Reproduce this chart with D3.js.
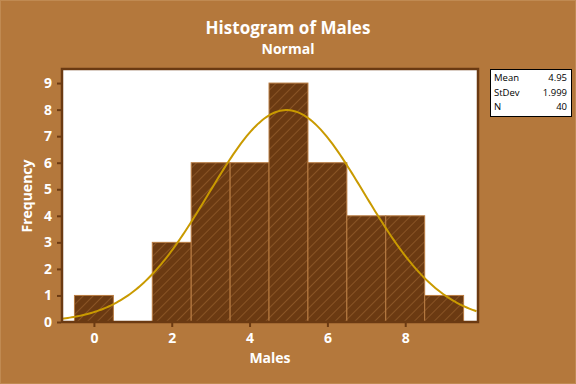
<!DOCTYPE html>
<html>
<head>
<meta charset="utf-8">
<script src="https://cdn.jsdelivr.net/npm/d3@7"></script>
<style>
  body { margin: 0; background: #b4783c; }
  svg { display: block; }
  text { font-family: "Open Sans", "DejaVu Sans", sans-serif; }
</style>
</head>
<body>
<svg id="chart" width="576" height="384"></svg>
<script>
// histogram bins (centre of each bin) and counts
var binCentres = [0, 1, 2, 3, 4, 5, 6, 7, 8, 9];
var counts = [1, 0, 3, 6, 6, 9, 6, 4, 4, 1];
var xTicks = [0, 2, 4, 6, 8];
var yTicks = [0, 1, 2, 3, 4, 5, 6, 7, 8, 9];
var statNames = ["Mean", "StDev", "N"];
var statValues = ["4.95", "1.999", "40"];
var mean = 4.95, sd = 1.999, n = 40, binWidth = 1;

var bg = "#b4783c";
var dark = "#6b3a12";
var svg = d3.select("#chart");

svg.append("rect")
  .attr("x", 0.5).attr("y", 0.5)
  .attr("width", 575).attr("height", 383)
  .attr("fill", bg).attr("stroke", "#c08a52");

var margin = {top: 69, right: 98, bottom: 62, left: 62};
var width = 576 - margin.left - margin.right;
var height = 384 - margin.top - margin.bottom;

var x = d3.scaleLinear().domain([-0.82, 9.87]).range([0, width]);
var y = d3.scaleLinear().domain([0, 9.53]).range([height, 0]);

// hatch pattern for the bars
var defs = svg.append("defs");
var pat = defs.append("pattern")
  .attr("id", "hatch")
  .attr("patternUnits", "userSpaceOnUse")
  .attr("width", 7).attr("height", 7)
  .attr("patternTransform", "rotate(45)");
pat.append("rect").attr("width", 7).attr("height", 7).attr("fill", dark);
pat.append("line")
  .attr("x1", 0).attr("y1", 0).attr("x2", 0).attr("y2", 7)
  .attr("stroke", "#a26a34").attr("stroke-width", 1.1);

var g = svg.append("g")
  .attr("transform", "translate(" + margin.left + "," + margin.top + ")");

g.append("rect")
  .attr("width", width).attr("height", height)
  .attr("fill", "#ffffff");

var bins = binCentres.map(function(c, i) { return {c: c, n: counts[i]}; })
  .filter(function(d) { return d.n > 0; });

g.selectAll(".bar")
  .data(bins)
  .enter().append("rect")
  .attr("class", "bar")
  .attr("x", function(d) { return x(d.c - binWidth / 2); })
  .attr("y", function(d) { return y(d.n); })
  .attr("width", function(d) { return x(d.c + binWidth / 2) - x(d.c - binWidth / 2); })
  .attr("height", function(d) { return y(0) - y(d.n); })
  .attr("fill", "url(#hatch)")
  .attr("stroke", "#b97c42")
  .attr("stroke-width", 1);

// fitted normal curve from the summary stats
var xs = d3.range(x.domain()[0], x.domain()[1] + 0.001, 0.05);
var curve = xs.map(function(v) {
  var z = (v - mean) / sd;
  return [v, n * binWidth * Math.exp(-0.5 * z * z) / (sd * Math.sqrt(2 * Math.PI))];
});

g.append("path")
  .datum(curve)
  .attr("fill", "none")
  .attr("stroke", "#c99a00")
  .attr("stroke-width", 2)
  .attr("d", d3.line()
    .x(function(d) { return x(d[0]); })
    .y(function(d) { return y(d[1]); }));

// frame
g.append("rect")
  .attr("x", 0).attr("y", 0)
  .attr("width", width).attr("height", height)
  .attr("fill", "none")
  .attr("stroke", dark).attr("stroke-width", 2.5);

var xAxis = g.append("g")
  .attr("transform", "translate(0," + (height + 1) + ")")
  .call(d3.axisBottom(x).tickValues(xTicks).tickSize(4).tickPadding(6).tickFormat(d3.format("d")));
var yAxis = g.append("g")
  .attr("transform", "translate(-1,0)")
  .call(d3.axisLeft(y).tickValues(yTicks).tickSize(4).tickPadding(5).tickFormat(d3.format("d")));

[xAxis, yAxis].forEach(function(a) {
  a.select(".domain").remove();
  a.selectAll("line").attr("stroke", dark).attr("stroke-width", 2);
  a.selectAll("text")
    .attr("fill", "#ffffff")
    .attr("font-size", 14)
    .attr("font-weight", "bold");
});

// titles
svg.append("text")
  .attr("x", 288).attr("y", 34)
  .attr("text-anchor", "middle")
  .attr("fill", "#ffffff").attr("font-size", 17).attr("font-weight", "bold")
  .text("Histogram of Males");
svg.append("text")
  .attr("x", 288).attr("y", 54)
  .attr("text-anchor", "middle")
  .attr("fill", "#ffffff").attr("font-size", 14).attr("font-weight", "bold")
  .text("Normal");
svg.append("text")
  .attr("x", 270).attr("y", 363)
  .attr("text-anchor", "middle")
  .attr("fill", "#ffffff").attr("font-size", 14).attr("font-weight", "bold")
  .text("Males");
svg.append("text")
  .attr("transform", "translate(32,196) rotate(-90)")
  .attr("text-anchor", "middle")
  .attr("fill", "#ffffff").attr("font-size", 14).attr("font-weight", "bold")
  .text("Frequency");

// stats box
var box = svg.append("g").attr("transform", "translate(490,69)");
box.append("rect")
  .attr("x", 0.5).attr("y", 0.5)
  .attr("width", 81).attr("height", 47)
  .attr("fill", "#ffffff").attr("stroke", "#000000");
statNames.forEach(function(s, i) {
  box.append("text")
    .attr("x", 4).attr("y", 12 + i * 14.5)
    .attr("font-size", 9.5).attr("fill", "#000000")
    .text(s);
  box.append("text")
    .attr("x", 77).attr("y", 12 + i * 14.5)
    .attr("text-anchor", "end")
    .attr("font-size", 9.5).attr("fill", "#000000")
    .text(statValues[i]);
});
</script>
</body>
</html>
